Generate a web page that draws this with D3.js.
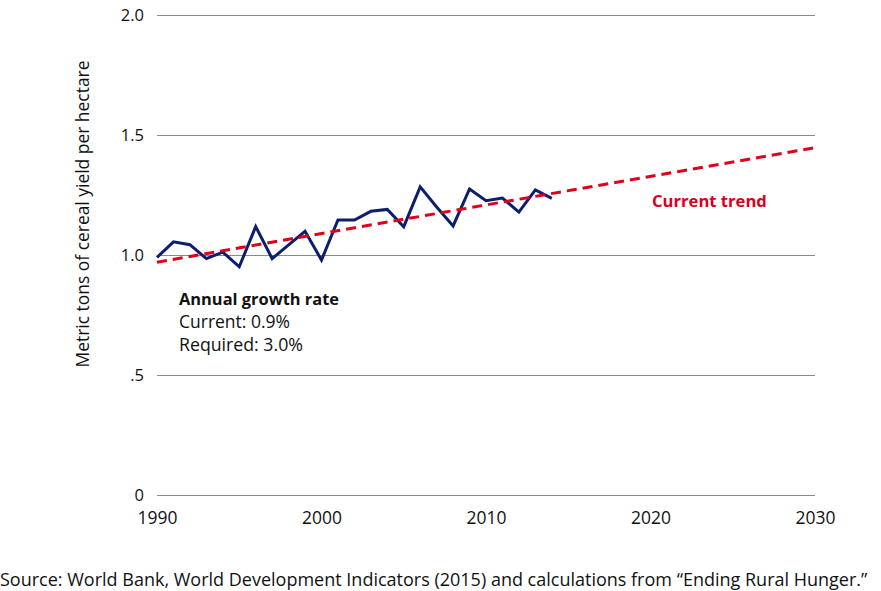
<!DOCTYPE html>
<html><head><meta charset="utf-8">
<script src="https://cdn.jsdelivr.net/npm/d3@7"></script>
<style>body{margin:0;background:#fff}svg{display:block}text{font-family:"Open Sans",sans-serif}</style>
</head><body>
<svg id="c" width="881" height="591"></svg>
<script>
const years = [1990,1991,1992,1993,1994,1995,1996,1997,1998,1999,2000,2001,2002,2003,2004,2005,2006,2007,2008,2009,2010,2011,2012,2013,2014];
const yieldValues = [0.990,1.055,1.043,0.985,1.012,0.951,1.118,0.985,1.042,1.099,0.979,1.146,1.146,1.182,1.190,1.118,1.284,1.200,1.121,1.275,1.226,1.237,1.179,1.271,1.236];
const trendYears = [1990,2030];
const trendValues = [0.970,1.447];
const yTicks = [0,0.5,1.0,1.5,2.0];
const yTickLabels = ["0",".5","1.0","1.5","2.0"];
const xTicks = [1990,2000,2010,2020,2030];

const svg = d3.select("#c");
const x = d3.scaleLinear().domain([1990,2030]).range([157,815]);
const y = d3.scaleLinear().domain([0,2]).range([495,15]);

function fit(sel, target){
  const n = sel.node();
  const fs = parseFloat(sel.attr("font-size"));
  const w = n.getComputedTextLength();
  if (w > 0) sel.attr("font-size", (fs*target/w).toFixed(2));
  return sel;
}

const yAxis = d3.axisLeft(y).tickValues(yTicks).tickSize(-(815-157)).tickFormat((d,i)=>yTickLabels[i]).tickPadding(13);
const gy = svg.append("g").attr("transform","translate(157,0)").call(yAxis);
gy.select(".domain").remove();
gy.selectAll(".tick line").attr("stroke","#8a8a8a").attr("stroke-width",1);
gy.selectAll(".tick text").attr("font-size",16.5).attr("fill","#111").attr("dy","0.35em").style("font-family","'Open Sans',sans-serif");

const xAxis = d3.axisBottom(x).tickValues(xTicks).tickFormat(d3.format("d")).tickSize(0).tickPadding(0);
const gx = svg.append("g").attr("transform","translate(0,512)").call(xAxis);
gx.select(".domain").remove();
gx.selectAll(".tick text").attr("font-size",16.5).attr("fill","#111").attr("dy","0.71em").style("font-family","'Open Sans',sans-serif");
gx.selectAll(".tick text").each(function(){ fit(d3.select(this), 40); });

fit(svg.append("text").attr("transform","translate(89,214) rotate(-90)").attr("text-anchor","middle")
  .attr("font-size",16).attr("fill","#111").text("Metric tons of cereal yield per hectare"), 307);

const line = d3.line().x(d=>x(d[0])).y(d=>y(d[1]));
svg.append("path").datum(years.map((yr,i)=>[yr,yieldValues[i]])).attr("d",line)
  .attr("fill","none").attr("stroke","#0c1f6e").attr("stroke-width",3).attr("stroke-linejoin","miter");
svg.append("path").datum(trendYears.map((yr,i)=>[yr,trendValues[i]])).attr("d",line)
  .attr("fill","none").attr("stroke","#e0001b").attr("stroke-width",3).attr("stroke-dasharray","10,6");

fit(svg.append("text").attr("x",652).attr("y",207).attr("font-size",16).attr("font-weight","bold").attr("fill","#d9001b").text("Current trend"), 115);

const ann = svg.append("g").attr("fill","#111");
fit(ann.append("text").attr("x",179).attr("y",305).attr("font-size",16).attr("font-weight","bold").text("Annual growth rate"), 160);
fit(ann.append("text").attr("x",179).attr("y",328).attr("font-size",16).text("Current: 0.9%"), 111);
fit(ann.append("text").attr("x",179).attr("y",351).attr("font-size",16).text("Required: 3.0%"), 124);

fit(svg.append("text").attr("x",0).attr("y",586).attr("font-size",15).attr("fill","#111")
  .text("Source: World Bank, World Development Indicators (2015) and calculations from \u201cEnding Rural Hunger.\u201d"), 868);
</script>
</body></html>
